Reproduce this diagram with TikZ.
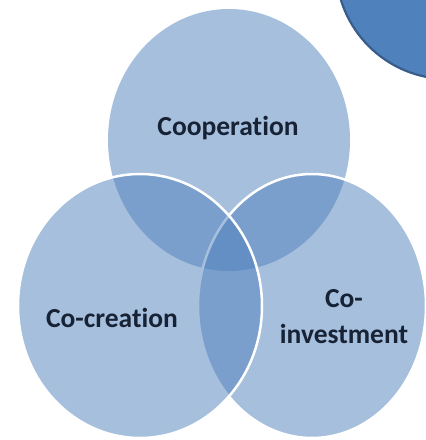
\documentclass[tikz,border=0pt]{standalone}
\usepackage{fontspec}
\setmainfont{Carlito}[RawFeature=-liga]
\definecolor{vennblue}{HTML}{4F81BD}
\definecolor{accentblue}{HTML}{4F81BD}
\definecolor{accentdark}{HTML}{385D8A}
\definecolor{labelcol}{HTML}{172235}
\begin{document}
\begin{tikzpicture}[x=1pt,y=-1pt,
  venn/.style={fill=vennblue, fill opacity=0.5, draw=white, draw opacity=1, line width=2.5pt},
  lbl/.style={font=\bfseries\fontsize{27.5}{36}\selectfont, text=labelcol, align=center, inner sep=0pt}]
\useasboundingbox (0,0) rectangle (426,440);
\clip (0,0) rectangle (426,440);
\fill[white] (0,0) rectangle (426,440);
% top-right blue shape
\path[fill=accentblue, draw=accentdark, line width=2.2pt] (448,-33) ellipse [x radius=112, y radius=112];
% Venn circles
\path[venn, draw=none] (229,140) ellipse [x radius=121, y radius=131];
\path[venn] (312,306) ellipse [x radius=114, y radius=132];
\path[venn] (140,306) ellipse [x radius=122, y radius=132];
% labels
\node[lbl] (coop) at (228,128) {Cooperation};
\node[lbl] (cocr) at (112,318) {Co-creation};
\node[lbl] (coinv) at (344,317) {Co-\\investment};
\end{tikzpicture}
\end{document}
